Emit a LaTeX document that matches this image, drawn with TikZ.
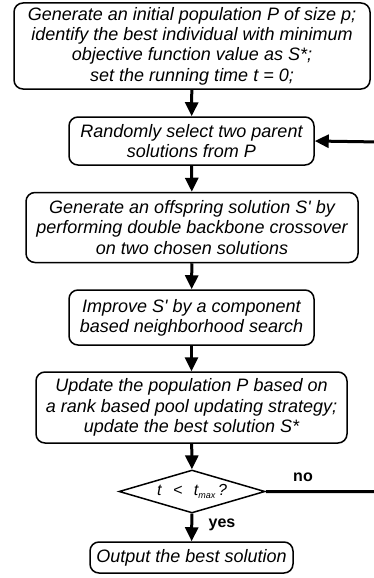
\documentclass[tikz,border=0pt]{standalone}
\usepackage{fontspec}
\setmainfont{Liberation Sans}
\usetikzlibrary{shapes.geometric,arrows.meta}

\tikzset{
  box/.style={draw, line width=1.5pt, rounded corners=9pt, align=center, inner sep=0pt,
    font=\fontsize{18}{20.3}\selectfont\itshape},
  flow/.style={line width=3pt, -{Triangle[width=13pt,length=14pt]}}
}
\newcommand{\sq}{\textquotesingle}

\begin{document}
\begin{tikzpicture}[x=1pt,y=-1pt]
 \useasboundingbox (0,0) rectangle (373,578);
 \node[box, minimum width=356pt, minimum height=86pt] (init) at (192,46)
   {Generate an initial population P of size p;\\
    identify the best individual with minimum\\
    objective function value as S*;\\
    set the running time t = 0;};
 \node[box, minimum width=245pt, minimum height=48pt] (select) at (191.5,141)
   {Randomly select two parent\\ solutions from P};
 \node[box, minimum width=332pt, minimum height=70pt] (cross) at (192,227.5)
   {Generate an offspring solution S\sq{} by\\
    performing double backbone crossover\\
    on two chosen solutions};
 \node[box, minimum width=245pt, minimum height=55pt] (improve) at (191.5,317.5)
   {Improve S\sq{} by a component\\ based neighborhood search};
 \node[box, minimum width=311pt, minimum height=71pt] (update) at (191.5,407.5)
   {Update the population P based on\\
    a rank based pool updating strategy;\\
    update the best solution S*};
 \node[draw, line width=1.5pt, diamond, aspect=3.35, inner sep=0pt,
   minimum width=146pt, minimum height=43pt,
   font=\fontsize{16}{18}\selectfont\itshape] (test) at (192,491.5)
   {t\;\, <\;\, t\raisebox{-3.5pt}{\fontsize{9}{9}\selectfont max}\,?};
 \node[box, minimum width=203pt, minimum height=31pt] (output) at (191.5,557.5)
   {Output the best solution};
 \coordinate (E1) at (380,491.5);
 \coordinate (E2) at (380,142);
 \draw[flow] (init) -- (select);
 \draw[flow] (select) -- (cross);
 \draw[flow] (cross) -- (improve);
 \draw[flow] (improve) -- (update);
 \draw[flow] (update) -- (test);
 \draw[flow] (test) -- (output);
 \draw[flow] (test.east) -- (E1) -- (E2) -- (select.east);
 \node[font=\fontsize{16}{16}\selectfont\bfseries] (no) at (303,477) {no};
 \node[font=\fontsize{16}{16}\selectfont\bfseries] (yes) at (222,525) {yes};
\end{tikzpicture}
\end{document}
